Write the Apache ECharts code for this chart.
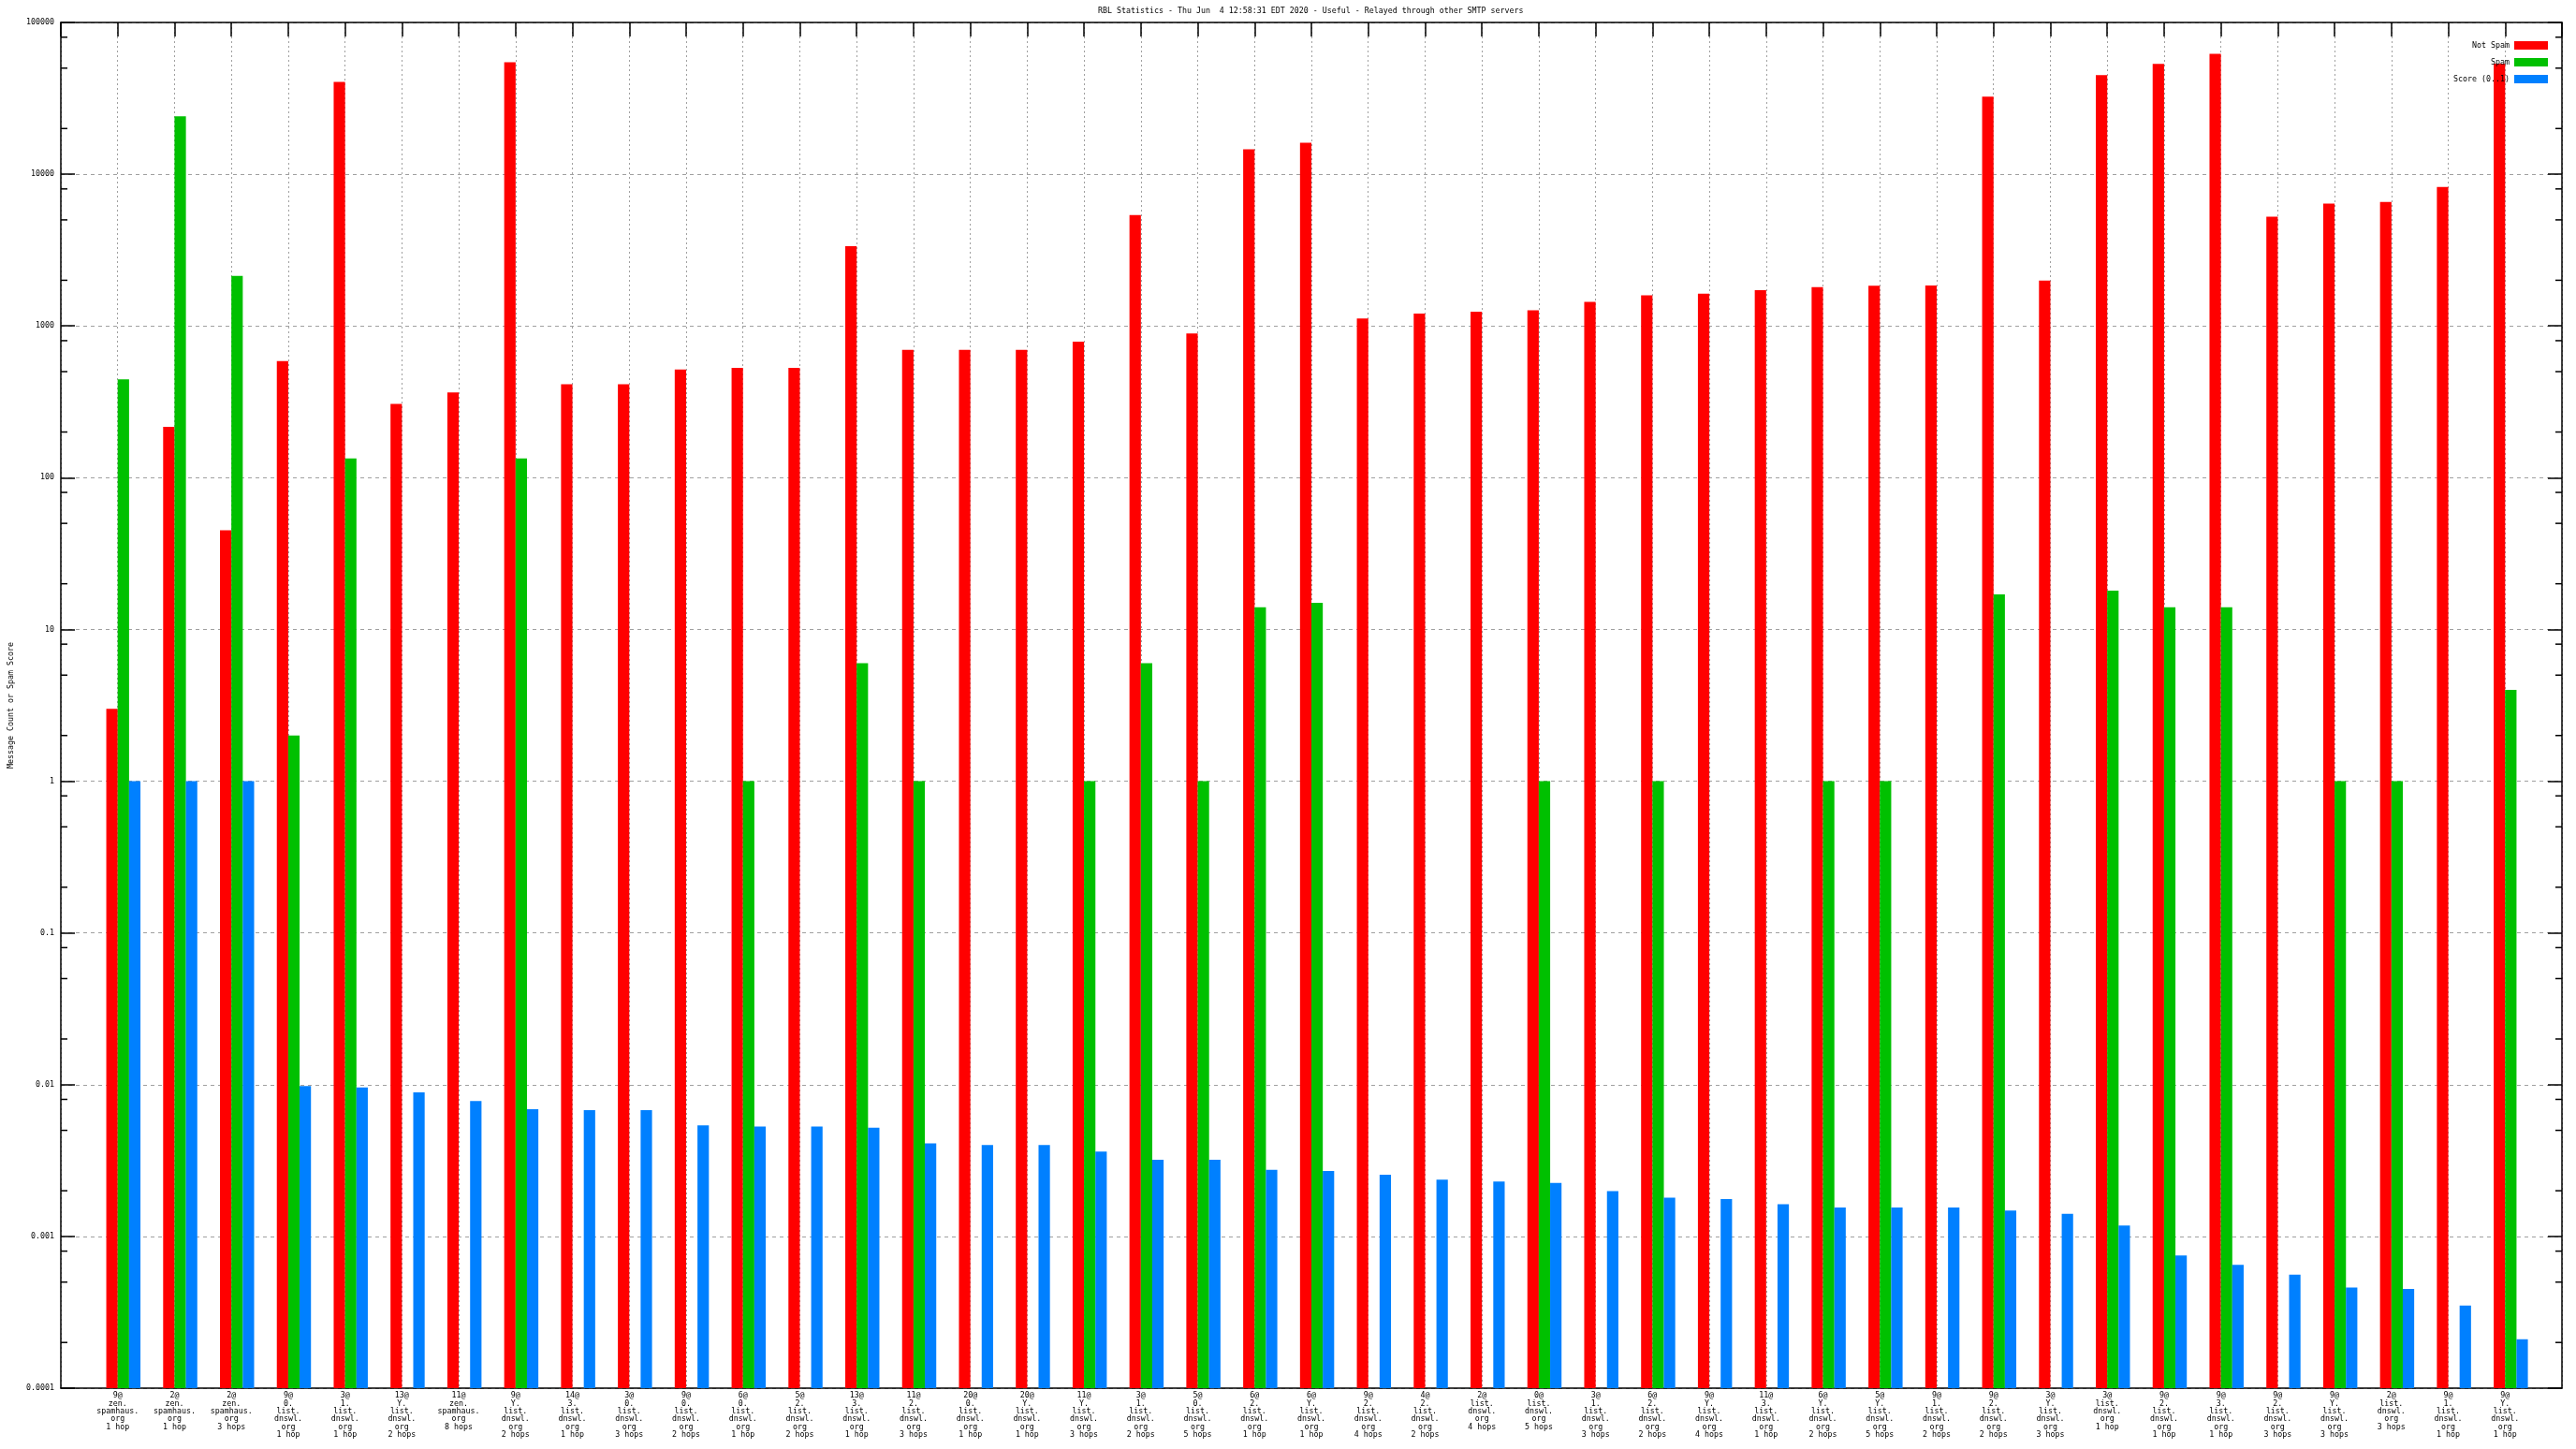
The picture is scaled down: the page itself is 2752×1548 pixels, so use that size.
<!DOCTYPE html>
<html><head><meta charset="utf-8">
<script src="https://cdn.jsdelivr.net/npm/echarts@6/dist/echarts.min.js"></script>
<style>html,body{margin:0;padding:0;background:#fff}#c{width:2752px;height:1548px}</style>
</head><body><div id="c"></div>
<script>
const chartTitle = 'RBL Statistics - Thu Jun  4 12:58:31 EDT 2020 - Useful - Relayed through other SMTP servers';
const seriesNames = ['Not Spam', 'Spam', 'Score (0..1)'];
const categories = [
 '9@\nzen.\nspamhaus.\norg\n1 hop',
 '2@\nzen.\nspamhaus.\norg\n1 hop',
 '2@\nzen.\nspamhaus.\norg\n3 hops',
 '9@\n0.\nlist.\ndnswl.\norg\n1 hop',
 '3@\n1.\nlist.\ndnswl.\norg\n1 hop',
 '13@\nY.\nlist.\ndnswl.\norg\n2 hops',
 '11@\nzen.\nspamhaus.\norg\n8 hops',
 '9@\nY.\nlist.\ndnswl.\norg\n2 hops',
 '14@\n3.\nlist.\ndnswl.\norg\n1 hop',
 '3@\n0.\nlist.\ndnswl.\norg\n3 hops',
 '9@\n0.\nlist.\ndnswl.\norg\n2 hops',
 '6@\n0.\nlist.\ndnswl.\norg\n1 hop',
 '5@\n2.\nlist.\ndnswl.\norg\n2 hops',
 '13@\n3.\nlist.\ndnswl.\norg\n1 hop',
 '11@\n2.\nlist.\ndnswl.\norg\n3 hops',
 '20@\n0.\nlist.\ndnswl.\norg\n1 hop',
 '20@\nY.\nlist.\ndnswl.\norg\n1 hop',
 '11@\nY.\nlist.\ndnswl.\norg\n3 hops',
 '3@\n1.\nlist.\ndnswl.\norg\n2 hops',
 '5@\n0.\nlist.\ndnswl.\norg\n5 hops',
 '6@\n2.\nlist.\ndnswl.\norg\n1 hop',
 '6@\nY.\nlist.\ndnswl.\norg\n1 hop',
 '9@\n2.\nlist.\ndnswl.\norg\n4 hops',
 '4@\n2.\nlist.\ndnswl.\norg\n2 hops',
 '2@\nlist.\ndnswl.\norg\n4 hops',
 '0@\nlist.\ndnswl.\norg\n5 hops',
 '3@\n1.\nlist.\ndnswl.\norg\n3 hops',
 '6@\n2.\nlist.\ndnswl.\norg\n2 hops',
 '9@\nY.\nlist.\ndnswl.\norg\n4 hops',
 '11@\n3.\nlist.\ndnswl.\norg\n1 hop',
 '6@\nY.\nlist.\ndnswl.\norg\n2 hops',
 '5@\nY.\nlist.\ndnswl.\norg\n5 hops',
 '9@\n1.\nlist.\ndnswl.\norg\n2 hops',
 '9@\n2.\nlist.\ndnswl.\norg\n2 hops',
 '3@\nY.\nlist.\ndnswl.\norg\n3 hops',
 '3@\nlist.\ndnswl.\norg\n1 hop',
 '9@\n2.\nlist.\ndnswl.\norg\n1 hop',
 '9@\n3.\nlist.\ndnswl.\norg\n1 hop',
 '9@\n2.\nlist.\ndnswl.\norg\n3 hops',
 '9@\nY.\nlist.\ndnswl.\norg\n3 hops',
 '2@\nlist.\ndnswl.\norg\n3 hops',
 '9@\n1.\nlist.\ndnswl.\norg\n1 hop',
 '9@\nY.\nlist.\ndnswl.\norg\n1 hop'
];
const notSpam = [3, 216, 45, 586, 40600, 306, 365, 54700, 413, 413, 517, 530, 530, 3350, 697, 697, 697, 789, 5380, 893, 14600, 16100, 1120, 1208, 1240, 1270, 1439, 1590, 1630, 1720, 1800, 1840, 1850, 32400, 1990, 44900, 53400, 62100, 5250, 6410, 6560, 8230, 53500];
const spam = [445, 24050, 2140, 2, 134, null, null, 134, null, null, null, 1, null, 6, 1, null, null, 1, 6, 1, 14, 15, null, null, null, 1, null, 1, null, null, 1, 1, null, 17, null, 18, 14, 14, null, 1, 1, null, 4];
const score = [1, 1, 1, 0.0098, 0.0096, 0.0089, 0.0078, 0.0069, 0.0068, 0.0068, 0.0054, 0.0053, 0.0053, 0.0052, 0.0041, 0.0040, 0.0040, 0.00362, 0.0032, 0.0032, 0.00275, 0.0027, 0.00255, 0.00237, 0.0023, 0.00225, 0.00199, 0.0018, 0.00176, 0.00163, 0.00155, 0.00155, 0.00155, 0.00148, 0.00141, 0.00118, 0.00075, 0.00065, 0.00056, 0.00046, 0.00045, 0.00035, 0.00021];
const yTickLabels = ['0.0001', '0.001', '0.01', '0.1', '1', '10', '100', '1000', '10000', '100000'];
const minorTickValues = [0.0002, 0.0005, 0.0008, 0.002, 0.005, 0.008, 0.02, 0.05, 0.08, 0.2, 0.5, 0.8, 2, 5, 8, 20, 50, 80, 200, 500, 800, 2000, 5000, 8000, 20000, 50000, 80000];
const colors = ['#ff0000', '#00c000', '#0080ff'];

const FONT = 'DejaVu Sans Mono';
const FS = 8.3;
const XMIN = -1, XMAX = categories.length;
const offsets = [-0.1, 0.1, 0.3];
const seriesValues = [notSpam, spam, score];

const chart = echarts.init(document.getElementById('c'), null, {renderer: 'canvas'});

const barSeries = seriesValues.map((vals, s) => ({
  name: seriesNames[s],
  type: 'bar',
  xAxisIndex: 0,
  yAxisIndex: 0,
  barWidth: 12.19,
  barGap: '-100%',
  z: 2,
  itemStyle: {color: colors[s]},
  data: vals.map((v, i) => [i + offsets[s], v]).filter(d => d[1] != null),
  silent: true,
  animation: false
}));

const tickSeries = {
  type: 'custom',
  xAxisIndex: 0,
  yAxisIndex: 0,
  silent: true,
  clip: false,
  z: 3,
  data: minorTickValues.map(v => [XMIN, v]),
  renderItem: (params, api) => {
    const v = api.value(1);
    const l = api.coord([XMIN, v]);
    const r = api.coord([XMAX, v]);
    return {type: 'group', children: [
      {type: 'line', shape: {x1: l[0], y1: l[1], x2: l[0] + 7, y2: l[1]}, style: {stroke: '#000', lineWidth: 1.5}},
      {type: 'line', shape: {x1: r[0] - 7, y1: r[1], x2: r[0], y2: r[1]}, style: {stroke: '#000', lineWidth: 1.5}}
    ]};
  }
};

const yLabel = v => yTickLabels[Math.round(Math.log10(v)) + 4] || '';
const axisLineStyle = {show: true, onZero: false, lineStyle: {color: '#000', width: 1.5}};

chart.setOption({
  animation: false,
  backgroundColor: '#ffffff',
  title: {
    text: chartTitle, left: 1168, top: 3,
    textStyle: {fontFamily: FONT, fontSize: FS, fontWeight: 'normal', color: '#000'}
  },
  legend: {
    data: seriesNames, orient: 'vertical', right: 25, top: 39, align: 'right', z: 20,
    icon: 'rect', itemWidth: 36, itemHeight: 9, itemGap: 9,
    textStyle: {fontFamily: FONT, fontSize: FS, color: '#000', lineHeight: 9}
  },
  grid: {left: 56, right: 15, top: 24, bottom: 65, containLabel: false},
  xAxis: [{
    type: 'value', min: XMIN, max: XMAX, interval: 1, position: 'bottom',
    axisLine: axisLineStyle,
    axisTick: {show: false},
    axisLabel: {
      margin: 4, fontFamily: FONT, fontSize: FS, lineHeight: 8.3, color: '#000',
      formatter: v => (Number.isInteger(v) && v >= 0 && v < categories.length) ? categories[v] : ''
    },
    splitLine: {show: true, lineStyle: {color: '#a0a0a0', width: 1, type: [2, 3]}}
  }, {
    type: 'value', min: XMIN, max: XMAX, interval: 1, position: 'top',
    axisLine: axisLineStyle,
    axisTick: {show: true, inside: true, length: 15, lineStyle: {color: '#000', width: 1.5}},
    axisLabel: {show: false},
    splitLine: {show: false}
  }],
  yAxis: [{
    type: 'log', logBase: 10, min: 0.0001, max: 100000, splitNumber: 9, startValue: 0.0001,
    position: 'left',
    name: 'Message Count or Spam Score', nameLocation: 'middle', nameRotate: 90, nameGap: 49,
    nameTextStyle: {fontFamily: FONT, fontSize: FS, color: '#000'},
    axisLine: axisLineStyle,
    axisTick: {show: true, inside: true, length: 15, lineStyle: {color: '#000', width: 1.5}},
    axisLabel: {margin: 7, fontFamily: FONT, fontSize: FS, color: '#000', formatter: yLabel},
    splitLine: {show: true, lineStyle: {color: '#a0a0a0', width: 1, type: [4, 4]}}
  }, {
    type: 'log', logBase: 10, min: 0.0001, max: 100000, splitNumber: 9,
    position: 'right',
    axisLine: axisLineStyle,
    axisTick: {show: true, inside: true, length: 15, lineStyle: {color: '#000', width: 1.5}},
    axisLabel: {show: false},
    splitLine: {show: false}
  }],
  series: [...barSeries, tickSeries]
});
</script></body></html>
